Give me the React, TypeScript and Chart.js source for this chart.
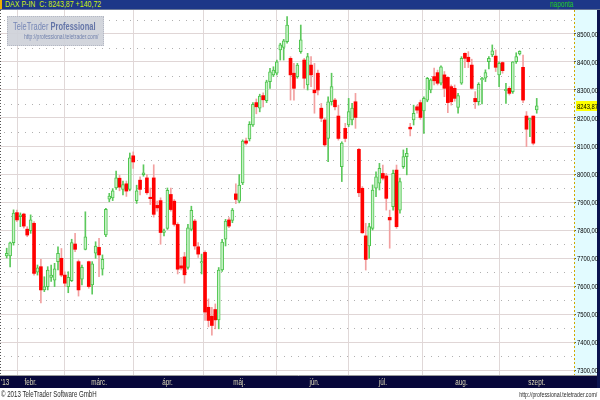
import React, { useEffect, useRef } from 'react';
import { Chart, registerables } from 'chart.js';
Chart.register(...registerables);

// Trading days of 2013 shown (DAX), per month
const janDays = [23, 24, 25, 28, 29, 30, 31];
const febDays = [1, 4, 5, 6, 7, 8, 11, 12, 13, 14, 15, 18, 19, 20, 21, 22, 25, 26, 27, 28];
const marDays = [1, 4, 5, 6, 7, 8, 11, 12, 13, 14, 15, 18, 19, 20, 21, 22, 25, 26, 27, 28];
const aprDays = [2, 3, 4, 5, 8, 9, 10, 11, 12, 15, 16, 17, 18, 19, 22, 23, 24, 25, 26, 29, 30];
const mayDays = [2, 3, 6, 7, 8, 9, 10, 13, 14, 15, 16, 17, 20, 21, 22, 23, 24, 27, 28, 29, 30, 31];
const junDays = [3, 4, 5, 6, 7, 10, 11, 12, 13, 14, 17, 18, 19, 20, 21, 24, 25, 26, 27, 28];
const julDays = [1, 2, 3, 4, 5, 8, 9, 10, 11, 12, 15, 16, 17, 18, 19, 22, 23, 24, 25, 26, 29, 30, 31];
const augDays = [1, 2, 5, 6, 7, 8, 9, 12, 13, 14, 15, 16, 19, 20, 21, 22, 23, 26, 27, 28, 29, 30];
const sepDays = [2];
const monthNames = ["'13", 'febr.', 'márc.', 'ápr.', 'máj.', 'jún.', 'júl.', 'aug.', 'szept.'];

const openV = [
  7707, 7707, 7755, 7862, 7848, 7857, 7803,
  7798, 7824, 7649, 7669, 7586, 7598, 7631, 7621, 7687, 7699, 7639, 7598, 7619, 7750, 7687, 7624, 7731, 7687, 7604, 7717,
  7738, 7660, 7782, 7910, 7915, 7950, 7985, 7945, 7965, 7945, 8065, 7905, 7978, 7998, 7986, 7917, 7986, 7888, 7905, 7791,
  7806, 7927, 7903, 7820, 7672, 7704, 7666, 7802, 7832, 7740, 7682, 7720, 7524, 7492, 7516, 7479, 7657, 7767, 7836, 7834, 7929,
  7903, 7968, 8118, 8125, 8175, 8255, 8235, 8280, 8262, 8330, 8354, 8360, 8443, 8452, 8473, 8413, 8360, 8348, 8437, 8407, 8318, 8389,
  8300, 8360, 8235, 8193, 8127, 8258, 8264, 8207, 8026, 8163, 8175, 8193, 8258, 8088, 7949, 7779, 7743, 7806, 7949, 7967,
  8002, 7993, 7845, 7883, 8014, 7871, 8026, 8062, 8167, 8193, 8240, 8255, 8225, 8264, 8300, 8348, 8362, 8324, 8354, 8345, 8312, 8306, 8238,
  8324, 8431, 8417, 8389, 8270, 8258, 8336, 8342, 8401, 8425, 8421, 8354, 8398, 8298, 8306, 8294, 8401, 8429, 8381, 8207, 8193, 8207,
  8229,
];
const highV = [
  7735, 7757, 7872, 7871, 7861, 7860, 7812,
  7854, 7830, 7675, 7695, 7633, 7669, 7675, 7681, 7740, 7734, 7651, 7651, 7767, 7788, 7693, 7675, 7865, 7689, 7687, 7758,
  7770, 7711, 7877, 7931, 7948, 8010, 7995, 7975, 7975, 8075, 8079, 7960, 7990, 8033, 7998, 7950, 8033, 7903, 7915, 7803,
  7950, 7950, 7909, 7826, 7702, 7720, 7820, 7885, 7838, 7755, 7714, 7726, 7554, 7524, 7536, 7666, 7767, 7838, 7844, 7877, 7965,
  7998, 8122, 8128, 8187, 8255, 8268, 8285, 8290, 8335, 8377, 8383, 8407, 8467, 8481, 8562, 8419, 8395, 8395, 8532, 8413, 8431, 8419,
  8395, 8371, 8252, 8199, 8276, 8360, 8270, 8246, 8115, 8181, 8270, 8252, 8288, 8092, 7955, 7824, 7824, 7961, 8008, 8038,
  8032, 8002, 7871, 8014, 8032, 7985, 8086, 8092, 8181, 8246, 8246, 8264, 8276, 8345, 8340, 8378, 8371, 8386, 8366, 8348, 8318, 8318, 8288,
  8419, 8433, 8437, 8410, 8294, 8326, 8345, 8372, 8419, 8461, 8443, 8401, 8401, 8324, 8312, 8401, 8433, 8440, 8425, 8223, 8199, 8207,
  8270,
];
const lowV = [
  7700, 7668, 7746, 7830, 7812, 7807, 7776,
  7788, 7639, 7639, 7540, 7580, 7586, 7616, 7598, 7657, 7633, 7598, 7576, 7616, 7723, 7564, 7604, 7729, 7592, 7571, 7699,
  7633, 7639, 7776, 7901, 7905, 7945, 7940, 7925, 7920, 7940, 8020, 7895, 7925, 7992, 7927, 7891, 7846, 7867, 7749, 7779,
  7802, 7867, 7814, 7643, 7657, 7610, 7660, 7797, 7731, 7702, 7643, 7477, 7454, 7424, 7447, 7447, 7652, 7743, 7808, 7826, 7894,
  7897, 7962, 8104, 8118, 8170, 8215, 8222, 8240, 8255, 8306, 8348, 8354, 8407, 8407, 8467, 8264, 8264, 8342, 8431, 8306, 8300, 8312,
  8217, 8282, 8187, 8098, 8044, 8246, 8229, 8121, 7973, 8115, 8169, 8175, 8163, 7919, 7788, 7657, 7699, 7800, 7919, 7943,
  7979, 7871, 7735, 7871, 7806, 7860, 8020, 7997, 8136, 8175, 8217, 8195, 8145, 8258, 8290, 8318, 8318, 8318, 8276, 8219, 8246, 8260, 8217,
  8320, 8380, 8380, 8302, 8234, 8246, 8250, 8330, 8375, 8419, 8366, 8312, 8360, 8252, 8282, 8288, 8395, 8425, 8255, 8098, 8133, 8104,
  8217,
];
const closeV = [
  7717, 7754, 7860, 7836, 7854, 7814, 7782,
  7836, 7645, 7665, 7586, 7598, 7657, 7639, 7661, 7717, 7639, 7610, 7631, 7755, 7731, 7586, 7667, 7776, 7598, 7679, 7743,
  7711, 7695, 7874, 7921, 7940, 7986, 7953, 7962, 7939, 8058, 8043, 7940, 7945, 8004, 7933, 7912, 7856, 7879, 7791, 7797,
  7942, 7873, 7820, 7660, 7664, 7640, 7808, 7870, 7743, 7714, 7687, 7507, 7477, 7459, 7479, 7657, 7757, 7832, 7814, 7871, 7909,
  7960, 8118, 8110, 8177, 8249, 8240, 8278, 8265, 8329, 8365, 8371, 8401, 8461, 8476, 8532, 8354, 8306, 8389, 8479, 8342, 8419, 8354,
  8290, 8300, 8199, 8104, 8258, 8312, 8240, 8127, 8110, 8127, 8223, 8235, 8202, 7933, 7790, 7695, 7812, 7943, 7990, 8020,
  7985, 7913, 7836, 8002, 7812, 7973, 8062, 8074, 8161, 8217, 8228, 8202, 8270, 8342, 8336, 8333, 8324, 8383, 8306, 8255, 8258, 8270, 8280,
  8413, 8413, 8401, 8306, 8258, 8320, 8342, 8362, 8413, 8440, 8381, 8395, 8369, 8302, 8288, 8401, 8419, 8438, 8264, 8160, 8199, 8110,
  8243.87,
];

const yTickValues = [7300, 7400, 7500, 7600, 7700, 7800, 7900, 8000, 8100, 8200, 8300, 8400, 8500];
const yMin = 7278.6;
const yMax = 8585.7;
const xMin = -1.96;
const xMax = 165.9;
const yearLabelPos = -0.5;

const monthDays = [janDays, febDays, marDays, aprDays, mayDays, junDays, julDays, augDays, sepDays];
const dates: string[] = [];
const monthStart: number[] = [];
monthDays.forEach((days, m) => {
  monthStart.push(dates.length);
  days.forEach((d) => dates.push(`2013-${String(m + 1).padStart(2, '0')}-${String(d).padStart(2, '0')}`));
});
const xTickValues = monthStart.map((v, m) => (m === 0 ? yearLabelPos : v));

const FONT = "'Liberation Sans', Arial, sans-serif";
const fmt = (v: number) => v.toFixed(2).replace('.', ',');
const isUp = (i: number) => closeV[i] >= openV[i];

function condensedText(ctx: any, text: string, x: number, y: number, sx: number) {
  ctx.save();
  ctx.translate(x, y);
  ctx.scale(sx, 1);
  ctx.fillText(text, 0, 0);
  ctx.restore();
}

const decorPlugin = {
  id: 'decor',
  beforeDraw(chart: any) {
    const { ctx, chartArea: ca, scales } = chart;
    const xs = scales.x;
    const ys = scales.y;
    ctx.save();
    ctx.fillStyle = '#ffffff';
    ctx.fillRect(0, 0, chart.width, chart.height);
    ctx.fillStyle = '#e2fbff';
    ctx.fillRect(ys.left, ca.top, ys.right - ys.left, ca.bottom - ca.top);
    ctx.fillStyle = '#07073a';
    ctx.fillRect(0, xs.top, chart.width, xs.bottom - xs.top);
    ctx.fillStyle = '#0c1450';
    ctx.fillRect(ys.right, 0, chart.width - ys.right, xs.bottom);
    ctx.restore();
  },
  beforeDatasetsDraw(chart: any) {
    const { ctx, chartArea: ca, scales } = chart;
    const ys = scales.y;
    ctx.save();
    ctx.lineWidth = 1;
    ctx.strokeStyle = '#b0b0b0';
    ctx.setLineDash([1, 6]);
    for (const v of yTickValues) {
      const y = Math.round(ys.getPixelForValue(v + 50)) + 0.5;
      if (y > ca.top && y < ca.bottom) {
        ctx.beginPath();
        ctx.moveTo(ca.left + 4, y);
        ctx.lineTo(ca.right, y);
        ctx.stroke();
      }
    }
    ctx.strokeStyle = '#d0a800';
    ctx.setLineDash([2, 2]);
    ctx.beginPath();
    ctx.moveTo(ys.left + 0.5, ca.top);
    ctx.lineTo(ys.left + 0.5, ca.bottom);
    ctx.stroke();
    ctx.strokeStyle = '#555555';
    ctx.setLineDash([1, 2]);
    ctx.beginPath();
    ctx.moveTo(0.5, ca.top);
    ctx.lineTo(0.5, ca.bottom);
    ctx.stroke();
    ctx.setLineDash([]);
    ctx.strokeStyle = '#9a9a9a';
    ctx.beginPath();
    ctx.moveTo(0, ca.bottom - 0.5);
    ctx.lineTo(ys.right, ca.bottom - 0.5);
    ctx.stroke();
    ctx.restore();
  },
  afterDraw(chart: any) {
    const { ctx, scales } = chart;
    const ys = scales.y;
    const xs = scales.x;
    ctx.save();
    // value axis labels
    ctx.fillStyle = '#000000';
    ctx.font = `8px ${FONT}`;
    ctx.textBaseline = 'middle';
    ctx.textAlign = 'left';
    for (const v of yTickValues) {
      condensedText(ctx, fmt(v), ys.left + 3, ys.getPixelForValue(v) + 0.5, 0.73);
    }
    // last close marker
    const last = closeV[closeV.length - 1];
    const yl = Math.round(ys.getPixelForValue(last));
    ctx.fillStyle = '#ffff00';
    ctx.fillRect(ys.left + 2, yl - 5, ys.right - ys.left - 2, 10);
    ctx.fillStyle = '#000000';
    condensedText(ctx, fmt(last), ys.left + 3, yl + 0.5, 0.73);
    // month labels
    ctx.fillStyle = '#dcd8b8';
    ctx.font = `9px ${FONT}`;
    const ly = (xs.top + xs.bottom) / 2 + 0.5;
    xTickValues.forEach((v, k) => {
      if (k === 0) {
        ctx.textAlign = 'left';
        condensedText(ctx, monthNames[k], 1, ly, 0.7);
      } else {
        ctx.textAlign = 'center';
        condensedText(ctx, monthNames[k], xs.getPixelForValue(v), ly, 0.7);
      }
    });
    ctx.restore();
  },
};

export default function App() {
  const ref = useRef<HTMLCanvasElement>(null);
  useEffect(() => {
    document.body.style.margin = '0';
    const chart = new Chart(ref.current as HTMLCanvasElement, {
      type: 'bar',
      data: {
        labels: dates,
        datasets: [
          {
            label: 'body',
            data: dates.map((_, i) => ({ x: i, y: [Math.min(openV[i], closeV[i]), Math.max(openV[i], closeV[i])] })) as any,
            barThickness: 3,
            minBarLength: 1,
            grouped: false,
            order: 1,
            borderSkipped: false,
            backgroundColor: (c: any) => (isUp(c.dataIndex) ? '#c6f2c6' : '#ff0000'),
            borderColor: (c: any) => (isUp(c.dataIndex) ? '#4cc44c' : '#ff0000'),
            borderWidth: (c: any) => (isUp(c.dataIndex) ? 1 : 0),
          } as any,
          {
            label: 'wick',
            data: dates.map((_, i) => ({ x: i, y: [lowV[i], highV[i]] })) as any,
            barThickness: 1,
            grouped: false,
            order: 2,
            borderWidth: 0,
            backgroundColor: (c: any) => (isUp(c.dataIndex) ? '#5cc85c' : '#f2a0a0'),
          } as any,
        ],
      },
      options: {
        responsive: false,
        animation: false,
        devicePixelRatio: 1,
        layout: { padding: { top: 10, bottom: 12, left: 0, right: 3 } },
        plugins: { legend: { display: false }, tooltip: { enabled: false } },
        scales: {
          x: {
            type: 'linear',
            min: xMin,
            max: xMax,
            offset: false,
            afterBuildTicks: (s: any) => {
              s.ticks = xTickValues.map((v) => ({ value: v }));
            },
            afterFit: (s: any) => {
              s.height = 12;
              s.paddingLeft = 0;
              s.paddingRight = 0;
            },
            grid: {
              color: (c: any) => (c.tick && c.tick.value < 0 ? 'rgba(0,0,0,0)' : '#e0d8d8'),
              drawTicks: false,
            },
            border: { display: false },
            ticks: { display: false, autoSkip: false },
          },
          y: {
            position: 'right',
            min: yMin,
            max: yMax,
            afterBuildTicks: (s: any) => {
              s.ticks = yTickValues.map((v) => ({ value: v }));
            },
            afterFit: (s: any) => {
              s.width = 23;
              s.paddingTop = 0;
              s.paddingBottom = 0;
            },
            grid: { color: '#e0d6d6', drawTicks: true, tickLength: 2, tickColor: '#555555' },
            border: { display: false },
            ticks: { display: false },
          },
        },
      } as any,
      plugins: [decorPlugin],
    });
    return () => chart.destroy();
  }, []);

  const sans = "'Liberation Sans', Arial, sans-serif";
  const squeeze = (s: number, origin = 'left top'): React.CSSProperties => ({
    display: 'inline-block',
    transform: `scaleX(${s})`,
    transformOrigin: origin,
    whiteSpace: 'pre',
  });
  return (
    <div style={{ position: 'absolute', left: 0, top: 0, width: 600, height: 400, overflow: 'hidden', background: '#fff' }}>
      <canvas ref={ref} width={600} height={400} style={{ position: 'absolute', left: 0, top: 0, width: 600, height: 400 }} />
      <div style={{ position: 'absolute', left: 0, top: 0, width: 600, height: 9, background: '#1d3788', borderBottom: '1px solid #6a7898' }}>
        <div style={{ position: 'absolute', left: 0, top: 0, width: 2, height: 9, background: '#f0b000' }} />
        <div style={{ position: 'absolute', left: 5, top: -1, fontFamily: sans, fontSize: 9, lineHeight: '11px', color: '#cdee10' }}>
          <span style={squeeze(0.78)}>{'DAX P-IN  C: 8243,87 +140,72'}</span>
        </div>
        <div style={{ position: 'absolute', left: 550, top: -1, fontFamily: sans, fontSize: 9, lineHeight: '11px', color: '#22cc22' }}>
          <span style={squeeze(0.72)}>naponta</span>
        </div>
      </div>
      <div style={{ position: 'absolute', left: 7, top: 16, width: 95, height: 28, background: 'rgba(206,209,217,0.92)', border: '1px dotted #b4b8c4' }}>
        <div style={{ position: 'absolute', left: 5, top: 3, fontFamily: sans, fontSize: 11, lineHeight: '12px', color: '#7586b6' }}>
          <span style={squeeze(0.68)}>
            TeleTrader <b style={{ color: '#6475a8' }}>Professional</b>
          </span>
        </div>
        <div style={{ position: 'absolute', left: 16, top: 16, fontFamily: sans, fontSize: 7, lineHeight: '8px', color: '#7080ac' }}>
          <span style={squeeze(0.72)}>http://professional.teletrader.com/</span>
        </div>
      </div>
      <div style={{ position: 'absolute', left: 1, top: 389, fontFamily: sans, fontSize: 9, lineHeight: '11px', color: '#2a2a2a' }}>
        <span style={squeeze(0.68)}>© 2013 TeleTrader Software GmbH</span>
      </div>
      <div style={{ position: 'absolute', right: 3, top: 389, fontFamily: sans, fontSize: 8, lineHeight: '11px', color: '#2a2a2a', textAlign: 'right' }}>
        <span style={squeeze(0.66, 'right top')}>http://professional.teletrader.com/</span>
      </div>
    </div>
  );
}
